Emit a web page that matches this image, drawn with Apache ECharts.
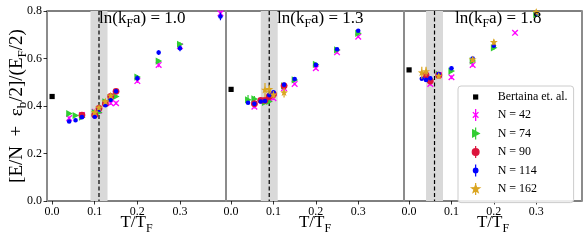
<!DOCTYPE html>
<html><head><meta charset="utf-8">
<script src="https://cdn.jsdelivr.net/npm/echarts@6/dist/echarts.min.js"></script>
<style>html,body{margin:0;padding:0;background:#fff}#c{width:588px;height:245px}</style>
</head><body><div id="c"></div>
<script>
// ---------- data ----------
const xTicks = [0, 0.1, 0.2, 0.3];
const yTicks = [0, 0.2, 0.4, 0.6, 0.8];
const lnkFa = ['1.0', '1.3', '1.8'];
const bertaina = [[0, 0.44], [0, 0.47], [0, 0.552]];
const bandLo = [0.09, 0.07, 0.04];
const bandHi = [0.13, 0.11, 0.08];
const bandMid = [0.11, 0.09, 0.06];
const seriesNames = ['N = 42', 'N = 74', 'N = 90', 'N = 114', 'N = 162'];
// each point: [T/T_F, value, error]
const p1_N42 = [[0.04,0.349,0.008],[0.07,0.362,0.008],[0.1,0.376,0.006],[0.11,0.38,0.006],[0.125,0.415,0.006],[0.1375,0.412,0.008],[0.15,0.412,0.008],[0.2,0.505,0.008],[0.25,0.573,0.01],[0.3,0.652,0.008],[0.395,0.79,0.012]];
const p1_N74 = [[0.04,0.368,0.006],[0.055,0.36,0.006],[0.07,0.353,0.006],[0.1,0.372,0.006],[0.11,0.373,0.006],[0.125,0.418,0.006],[0.1375,0.435,0.006],[0.15,0.44,0.006],[0.2,0.522,0.008],[0.25,0.589,0.008],[0.3,0.66,0.008]];
const p1_N90 = [[0.07,0.362,0.006],[0.1,0.362,0.006],[0.11,0.39,0.006],[0.125,0.41,0.006],[0.1375,0.44,0.006],[0.15,0.462,0.006]];
const p1_N114 = [[0.04,0.335,0.006],[0.055,0.34,0.004],[0.07,0.353,0.004],[0.1,0.355,0.004],[0.11,0.384,0.006],[0.125,0.403,0.004],[0.1375,0.426,0.004],[0.15,0.462,0.008],[0.2,0.517,0.01],[0.25,0.625,0.01],[0.3,0.643,0.012],[0.395,0.777,0.016]];
const p1_N162 = [[0.1,0.372,0.008],[0.11,0.392,0.008],[0.125,0.418,0.008],[0.1375,0.443,0.008]];

const p2_N42 = [[0.055,0.397,0.008],[0.09,0.43,0.008],[0.1,0.433,0.008],[0.125,0.475,0.008],[0.15,0.493,0.006],[0.2,0.559,0.006],[0.25,0.626,0.006],[0.3,0.692,0.006]];
const p2_N74 = [[0.04,0.426,0.02],[0.055,0.43,0.012],[0.08,0.415,0.008],[0.09,0.419,0.008],[0.125,0.485,0.008],[0.15,0.51,0.008],[0.2,0.575,0.008],[0.25,0.636,0.006],[0.3,0.706,0.008]];
const p2_N90 = [[0.055,0.41,0.008],[0.07,0.424,0.008],[0.08,0.424,0.008],[0.09,0.44,0.01],[0.1,0.45,0.008],[0.125,0.485,0.008]];
const p2_N114 = [[0.04,0.414,0.006],[0.055,0.409,0.006],[0.07,0.419,0.006],[0.08,0.421,0.006],[0.09,0.446,0.006],[0.1,0.458,0.006],[0.125,0.49,0.006],[0.15,0.514,0.006],[0.2,0.573,0.006],[0.25,0.639,0.006],[0.3,0.717,0.006]];
const p2_N162 = [[0.08,0.467,0.03],[0.09,0.47,0.02],[0.1,0.447,0.015],[0.125,0.456,0.02]];

const p3_N42 = [[0.05,0.493,0.008],[0.07,0.53,0.008],[0.1,0.521,0.008],[0.15,0.573,0.008],[0.25,0.708,0.006]];
const p3_N74 = [[0.05,0.512,0.008],[0.07,0.533,0.008],[0.1,0.547,0.008],[0.15,0.59,0.008],[0.2,0.645,0.008],[0.3,0.785,0.008]];
const p3_N90 = [[0.04,0.53,0.01],[0.05,0.505,0.01],[0.07,0.53,0.008]];
const p3_N114 = [[0.03,0.515,0.006],[0.04,0.51,0.006],[0.05,0.517,0.006],[0.07,0.535,0.006],[0.1,0.559,0.008],[0.15,0.6,0.006],[0.2,0.654,0.006],[0.3,0.79,0.006]];
const p3_N162 = [[0.03,0.54,0.025],[0.04,0.545,0.02],[0.07,0.526,0.01],[0.15,0.595,0.01],[0.2,0.668,0.012],[0.3,0.795,0.01]];

const panels = [
  [p1_N42, p1_N74, p1_N90, p1_N114, p1_N162],
  [p2_N42, p2_N74, p2_N90, p2_N114, p2_N162],
  [p3_N42, p3_N74, p3_N90, p3_N114, p3_N162]
];

// ---------- styling ----------
const FONT = "'Liberation Serif', 'Times New Roman', serif";
const colors = ['#ff00ff', '#32cd32', '#dc143c', '#0000ff', '#daa520'];
const kinds = ['x', 'tri', 'o', 'dot', 'star'];
const SPINE_GREY = '#8c8c8c';

function markerEl(kind, cx, cy, color) {
  if (kind === 'x') {
    const r = 2.8;
    return [
      {type:'line', shape:{x1:cx-r,y1:cy-r,x2:cx+r,y2:cy+r}, style:{stroke:color, lineWidth:1.3}},
      {type:'line', shape:{x1:cx+r,y1:cy-r,x2:cx-r,y2:cy+r}, style:{stroke:color, lineWidth:1.3}}
    ];
  }
  if (kind === 'tri') {
    return [{type:'polygon', shape:{points:[[cx-3,cy-3.6],[cx+3.6,cy],[cx-3,cy+3.6]]}, style:{fill:color}}];
  }
  if (kind === 'o') return [{type:'circle', shape:{cx, cy, r:3.4}, style:{fill:color}}];
  if (kind === 'dot') return [{type:'circle', shape:{cx, cy, r:2.3}, style:{fill:color}}];
  if (kind === 'star') {
    const pts = [];
    for (let k = 0; k < 10; k++) {
      const a = -Math.PI/2 + k*Math.PI/5;
      const rr = k % 2 === 0 ? 4.2 : 1.7;
      pts.push([cx + rr*Math.cos(a), cy + rr*Math.sin(a)]);
    }
    return [{type:'polygon', shape:{points:pts}, style:{fill:color}}];
  }
  if (kind === 'sq') return [{type:'rect', shape:{x:cx-2.6, y:cy-2.6, width:5.2, height:5.2}, style:{fill:color}}];
  return [];
}

function makeRender(kind, color) {
  return function (params, api) {
    const x = api.value(0), y = api.value(1), e = api.value(2) || 0;
    const p = api.coord([x, y]);
    const children = [];
    if (e > 0) {
      const a = api.coord([x, y + e]), b = api.coord([x, y - e]);
      children.push({type:'line', shape:{x1:a[0], y1:a[1], x2:b[0], y2:b[1]}, style:{stroke:color, lineWidth:1.2}});
    }
    return {type:'group', children: children.concat(markerEl(kind, p[0], p[1], color))};
  };
}

const grids = [
  {left: 47, top: 11, width: 179, height: 190},
  {left: 226, top: 11, width: 178, height: 190},
  {left: 404, top: 11, width: 178, height: 190}
];

const xName = '{m|T/T}{s|F}';
const nameRich = {
  m: {fontFamily: FONT, fontSize: 17, lineHeight: 24, color: '#000'},
  s: {fontFamily: FONT, fontSize: 12, lineHeight: 24, verticalAlign: 'bottom', color: '#000'}
};
const yNameRich = {
  m: {fontFamily: FONT, fontSize: 19, lineHeight: 24, color: '#000'},
  s: {fontFamily: FONT, fontSize: 13, lineHeight: 24, verticalAlign: 'bottom', color: '#000'}
};

const xAxes = grids.map((g, i) => ({
  type: 'value', gridIndex: i, min: -0.012, max: 0.408,
  axisLine: {show: false},
  splitLine: {show: false},
  axisTick: {show: true, customValues: xTicks, length: 3.5, lineStyle: {color: '#000', width: 0.8}},
  axisLabel: {customValues: xTicks, formatter: v => v.toFixed(1), fontFamily: FONT, fontSize: 12, color: '#000', margin: 5},
  name: xName, nameLocation: 'middle', nameGap: 9.5, nameMoveOverlap: false,
  nameTextStyle: {rich: nameRich}
}));

const yAxes = grids.map((g, i) => ({
  type: 'value', gridIndex: i, min: 0, max: 0.8, interval: 0.2, z: 5,
  axisLine: {show: true, onZero: false, lineStyle: {color: SPINE_GREY, width: 2}},
  splitLine: {show: false},
  axisTick: {show: i === 0, length: 3.5, lineStyle: {color: '#000', width: 0.8}},
  axisLabel: {show: i === 0, formatter: v => v.toFixed(1), fontFamily: FONT, fontSize: 12, color: '#000', margin: 5},
  name: i === 0 ? '{m|[E/N  +  ε}{s|b}{m|/2]/(E}{s|F}{m|/2)}' : '',
  nameLocation: 'middle', nameGap: 18, nameMoveOverlap: false,
  nameTextStyle: {rich: yNameRich}
}));
// right spine of the last panel
yAxes.push({
  type: 'value', gridIndex: 2, min: 0, max: 0.8, position: 'right', z: 5,
  axisLine: {show: true, onZero: false, lineStyle: {color: SPINE_GREY, width: 2}},
  axisTick: {show: false}, axisLabel: {show: false}, splitLine: {show: false}
});

const series = [];
grids.forEach((g, i) => {
  // shaded band + dashed line
  series.push({
    type: 'custom', xAxisIndex: i, yAxisIndex: i, silent: true, z: 1,
    data: [[bandLo[i], bandHi[i], bandMid[i]]],
    renderItem: (params, api) => {
      const tl = api.coord([api.value(0), 0.8]);
      const br = api.coord([api.value(1), 0]);
      const mt = api.coord([api.value(2), 0.8]);
      const mb = api.coord([api.value(2), 0]);
      return {type: 'group', children: [
        {type: 'rect', shape: {x: tl[0], y: tl[1], width: br[0]-tl[0], height: br[1]-tl[1]}, style: {fill: '#d9d9d9'}},
        {type: 'line', shape: {x1: mt[0], y1: mt[1], x2: mb[0], y2: mb[1]}, style: {stroke: '#000', lineWidth: 1.2, lineDash: [4, 2.5]}}
      ]};
    }
  });
  series.push({
    name: 'Bertaina et. al.', type: 'custom', xAxisIndex: i, yAxisIndex: i, z: 3,
    data: [bertaina[i]], itemStyle: {color: '#000'},
    renderItem: makeRender('sq', '#000')
  });
  panels[i].forEach((d, k) => {
    series.push({
      name: seriesNames[k], type: 'custom', xAxisIndex: i, yAxisIndex: i, z: 3,
      data: d, itemStyle: {color: colors[k]},
      renderItem: makeRender(kinds[k], colors[k])
    });
  });
});

const B = 'path://M0,0M16,16';
const legendData = [
  {name: 'Bertaina et. al.', icon: B + 'M5.4,5.4h5.2v5.2h-5.2z', itemStyle: {color: '#000', borderWidth: 0}},
  {name: 'N = 42', icon: B + 'M5.2,5.2L10.8,10.8M10.8,5.2L5.2,10.8M8,2L8,14', itemStyle: {color: 'rgba(0,0,0,0)', borderColor: colors[0], borderWidth: 1.3}},
  {name: 'N = 74', icon: B + 'M5,4.4L11.6,8L5,11.6ZM8,2L8,14', itemStyle: {color: colors[1], borderColor: colors[1], borderWidth: 1.2}},
  {name: 'N = 90', icon: B + 'M4.6,8A3.4,3.4 0 1 0 11.4,8A3.4,3.4 0 1 0 4.6,8ZM8,2L8,14', itemStyle: {color: colors[2], borderColor: colors[2], borderWidth: 1.2}},
  {name: 'N = 114', icon: B + 'M5.7,8A2.3,2.3 0 1 0 10.3,8A2.3,2.3 0 1 0 5.7,8ZM8,2L8,14', itemStyle: {color: colors[3], borderColor: colors[3], borderWidth: 1.2}},
  {name: 'N = 162', icon: B + 'M8,3.8L9,6.6L12,6.7L9.6,8.5L10.5,11.4L8,9.7L5.5,11.4L6.4,8.5L4,6.7L7,6.6ZM8,2L8,14', itemStyle: {color: colors[4], borderColor: colors[4], borderWidth: 1.2}}
];

const option = {
  animation: false,
  backgroundColor: '#fff',
  grid: grids.map(g => Object.assign({show: true, borderColor: '#000', borderWidth: 1, backgroundColor: 'transparent'}, g)),
  xAxis: xAxes,
  yAxis: yAxes,
  legend: {
    orient: 'vertical', left: 458, top: 86,
    data: legendData, selectedMode: false,
    itemWidth: 16, itemHeight: 16, itemGap: 1.3,
    padding: [3, 6, 5, 9],
    backgroundColor: 'rgba(255,255,255,0.85)', borderColor: '#cccccc', borderWidth: 1, borderRadius: 3,
    textStyle: {fontFamily: FONT, fontSize: 12, lineHeight: 14, color: '#000', padding: [0, 0, 0, 9]}
  },
  graphic: lnkFa.map((t, i) => ({
    type: 'text', left: [99, 277, 455][i], top: 10, z: 10,
    style: {
      text: '{m|ln(k}{s|F}{m|a) = ' + t + '}',
      rich: {
        m: {fontFamily: FONT, fontSize: 17, lineHeight: 22, fill: '#000'},
        s: {fontFamily: FONT, fontSize: 12, lineHeight: 22, verticalAlign: 'bottom', fill: '#000'}
      }
    }
  })),
  series: series
};

const chart = echarts.init(document.getElementById('c'), null, {renderer: 'canvas'});
chart.setOption(option);
</script></body></html>
